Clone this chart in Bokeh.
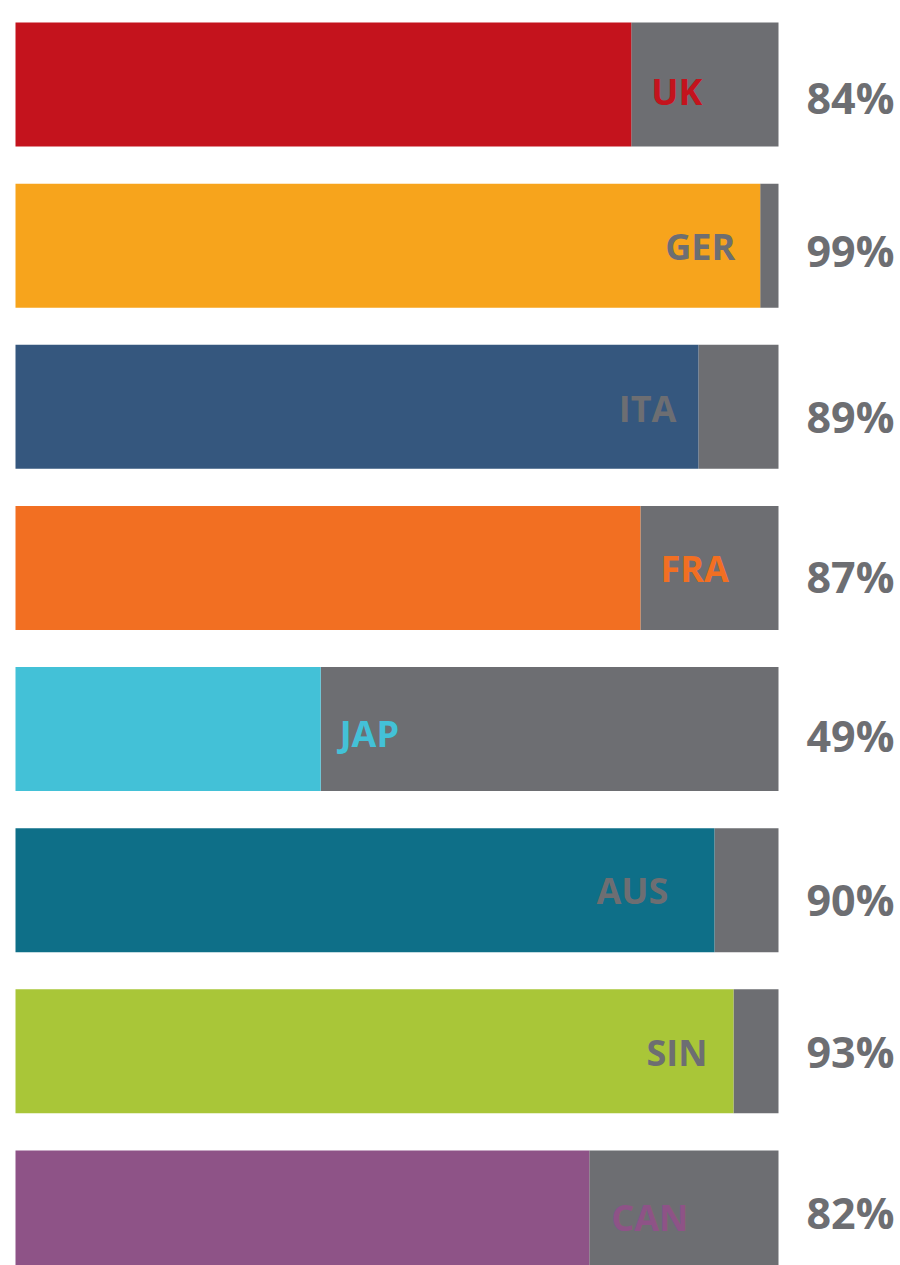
from bokeh.plotting import figure
from bokeh.models import ColumnDataSource, Range1d
from bokeh.core.properties import value
from bokeh.embed import file_html
from bokeh.resources import INLINE

# ---- data ----
countries = ["UK", "GER", "ITA", "FRA", "JAP", "AUS", "SIN", "CAN"]
share_labels = ["84%", "99%", "89%", "87%", "49%", "90%", "93%", "82%"]
bar_fill = [80.7, 97.6, 89.5, 81.9, 40.0, 91.6, 94.1, 75.2]   # coloured length of each bar (of 100)
bar_total = [100, 100, 100, 100, 100, 100, 100, 100]

# ---- styles ----
bar_colors = ["#C4131D", "#F7A41C", "#35577E", "#F26F22",
              "#43C1D7", "#0E6F88", "#A9C638", "#8E5387"]
GREY = "#6D6E72"
label_inside = [False, True, True, False, False, True, True, False]
label_dx = [20, -25, -22, 20, 19, -46, -26, 22]
label_dy = [8, 2, 2.5, 1.5, 6, 1.5, 2, 6]
pct_dy = [13, 4, 9.5, 8.5, 6, 8.5, -0.5, 0]

W, H = 900, 1265
PX_PER_UNIT = 7.63
STEP = 161.14
x0_px = 15
y0_px = 84

ys = [-i for i in range(len(countries))]

p = figure(width=W, height=H, output_backend="svg", toolbar_location=None,
           min_border=0, x_axis_type=None, y_axis_type=None)
p.x_range = Range1d(-x0_px / PX_PER_UNIT, (W - x0_px) / PX_PER_UNIT)
y_end = y0_px / STEP
p.y_range = Range1d(y_end - H / STEP, y_end)
p.outline_line_color = None
p.grid.visible = False
p.background_fill_color = "white"
p.border_fill_color = "white"

bar_h = 124 / STEP

src = ColumnDataSource(dict(
    y=ys, fill=bar_fill, total=bar_total, color=bar_colors,
    country=countries, pct=share_labels,
    lab_color=[GREY if ins else c for ins, c in zip(label_inside, bar_colors)],
    lab_align=["right" if ins else "left" for ins in label_inside],
    lab_dx=label_dx,
    lab_dy=[d - 1.1 for d in label_dy],
    pct_dy=[d + 0.4 for d in pct_dy],
))

p.hbar(y="y", left="fill", right="total", height=bar_h, color=GREY, source=src,
       line_color=None)
p.hbar(y="y", left=0, right="fill", height=bar_h, fill_color="color", source=src,
       line_color=None)

p.text(x="fill", y="y", text="country", source=src, text_color="lab_color",
       text_align="lab_align", text_baseline="alphabetic",
       x_offset="lab_dx", y_offset="lab_dy",
       text_font=value("Open Sans"), text_font_style="bold",
       text_font_size="36px")

p.text(x="total", y="y", text="pct", source=src, text_color=GREY,
       text_align="left", text_baseline="alphabetic",
       x_offset=28, y_offset="pct_dy",
       text_font=value("Open Sans"), text_font_style="bold",
       text_font_size="43px")

open("out.html", "w").write(file_html(p, INLINE))
